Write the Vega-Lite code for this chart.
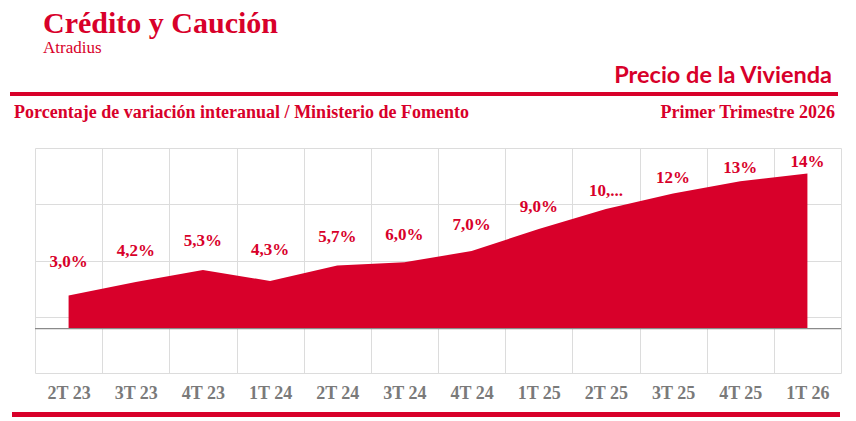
{
  "$schema": "https://vega.github.io/schema/vega-lite/v6.json",
  "background": "white",
  "padding": {"left": 10, "top": 8, "right": 0, "bottom": 0},
  "title": {
    "text": "Crédito y Caución",
    "subtitle": "Atradius",
    "anchor": "start",
    "dx": 33,
    "font": "Liberation Serif",
    "fontSize": 30,
    "fontWeight": "bold",
    "color": "#d8002a",
    "subtitleFont": "Liberation Serif",
    "subtitleFontSize": 17,
    "subtitleColor": "#d8002a",
    "subtitlePadding": 1,
    "offset": 8
  },
  "spacing": 0,
  "vconcat": [
    {
      "width": 828,
      "height": 4,
      "view": {"fill": "#d8002a", "stroke": null},
      "title": {
        "text": "Precio de la Vivienda",
        "anchor": "end",
        "dx": -6,
        "font": "Lato",
        "fontSize": 23.5,
        "fontWeight": "bold",
        "color": "#d8002a",
        "offset": 5
      },
      "data": {"values": []},
      "mark": {"type": "text"},
      "encoding": {"text": {"field": "t"}}
    },
    {
      "width": 828,
      "height": 8,
      "view": {"stroke": null},
      "data": {"values": []},
      "mark": {"type": "text"},
      "encoding": {"text": {"field": "t"}}
    },
    {
      "spacing": 0,
      "hconcat": [
        {
          "width": 560,
          "height": 22,
          "view": {"stroke": null},
          "title": {
            "text": "Porcentaje de variación interanual / Ministerio de Fomento",
            "anchor": "start",
            "dx": 4,
            "font": "Liberation Serif",
            "fontSize": 18,
            "fontWeight": "bold",
            "color": "#d8002a",
            "offset": 4
          },
          "data": {"values": []},
          "mark": {"type": "text"},
          "encoding": {"text": {"field": "t"}}
        },
        {
          "width": 268,
          "height": 22,
          "view": {"stroke": null},
          "title": {
            "text": "Primer Trimestre 2026",
            "anchor": "end",
            "dx": -3,
            "font": "Liberation Serif",
            "fontSize": 18,
            "fontWeight": "bold",
            "color": "#d8002a",
            "offset": 4
          },
          "data": {"values": []},
          "mark": {"type": "text"},
          "encoding": {"text": {"field": "t"}}
        }
      ]
    },
    {
      "spacing": 0,
      "hconcat": [
        {
          "width": 24,
          "height": 264,
          "view": {"stroke": null},
          "data": {"values": []},
          "mark": {"type": "text"},
          "encoding": {"text": {"field": "t"}}
        },
        {
          "width": 806,
          "height": 225,
          "view": {"stroke": null},
          "data": {
            "values": [
              {"q": "2T 23", "v": 3.0, "label": "3,0%"},
              {"q": "3T 23", "v": 4.2, "label": "4,2%"},
              {"q": "4T 23", "v": 5.3, "label": "5,3%"},
              {"q": "1T 24", "v": 4.3, "label": "4,3%"},
              {"q": "2T 24", "v": 5.7, "label": "5,7%"},
              {"q": "3T 24", "v": 6.0, "label": "6,0%"},
              {"q": "4T 24", "v": 7.0, "label": "7,0%"},
              {"q": "1T 25", "v": 9.0, "label": "9,0%"},
              {"q": "2T 25", "v": 10.8, "label": "10,..."},
              {"q": "3T 25", "v": 12.2, "label": "12%"},
              {"q": "4T 25", "v": 13.3, "label": "13%"},
              {"q": "1T 26", "v": 14.0, "label": "14%"}
            ]
          },
          "resolve": {"scale": {"y": "independent"}, "axis": {"y": "independent"}},
          "layer": [
            {
              "mark": {"type": "area", "color": "#d8002a", "opacity": 1},
              "encoding": {
                "x": {
                  "field": "q", "type": "ordinal", "sort": null, "bandPosition": 0.5,
                  "scale": {"type": "band", "paddingInner": 0, "paddingOuter": 0},
                  "axis": {
                    "title": null, "tickBand": "extent", "grid": true, "gridColor": "#dcdcdc",
                    "domain": false, "ticks": false, "labelAngle": 0,
                    "labelFont": "Liberation Serif", "labelFontWeight": "bold",
                    "labelFontSize": 18, "labelColor": "#7a7a7a", "labelPadding": 11
                  }
                },
                "y": {
                  "field": "v", "type": "quantitative",
                  "scale": {"domain": [-4, 16.3], "nice": false, "zero": false},
                  "axis": {
                    "title": null, "values": [-4, 1.075, 6.15, 11.225, 16.3],
                    "labels": false, "ticks": false, "domain": false, "grid": true, "gridColor": "#dcdcdc"
                  }
                },
                "y2": {"datum": 0}
              }
            },
            {
              "data": {"values": [{"z": 0}]},
              "mark": {"type": "rule", "color": "#8a8a8a", "strokeWidth": 1.2},
              "encoding": {
                "y": {"field": "z", "type": "quantitative", "scale": {"domain": [-4, 16.3], "nice": false, "zero": false}, "axis": null}
              }
            },
            {
              "mark": {
                "type": "text", "baseline": "middle", "align": "center",
                "font": "Liberation Serif", "fontWeight": "bold", "fontSize": 17, "color": "#d8002a"
              },
              "encoding": {
                "x": {"field": "q", "type": "ordinal", "sort": null, "bandPosition": 0.5},
                "y": {"field": "v", "type": "quantitative", "scale": {"domain": [-9.28, 15.55], "nice": false, "zero": false}, "axis": null},
                "text": {"field": "label"}
              }
            }
          ]
        }
      ]
    },
    {
      "spacing": 0,
      "hconcat": [
        {
          "width": 2,
          "height": 5,
          "view": {"stroke": null},
          "data": {"values": []},
          "mark": {"type": "text"},
          "encoding": {"text": {"field": "t"}}
        },
        {
          "width": 828,
          "height": 5,
          "view": {"fill": "#d8002a", "stroke": null},
          "data": {"values": []},
          "mark": {"type": "text"},
          "encoding": {"text": {"field": "t"}}
        }
      ]
    }
  ]
}
